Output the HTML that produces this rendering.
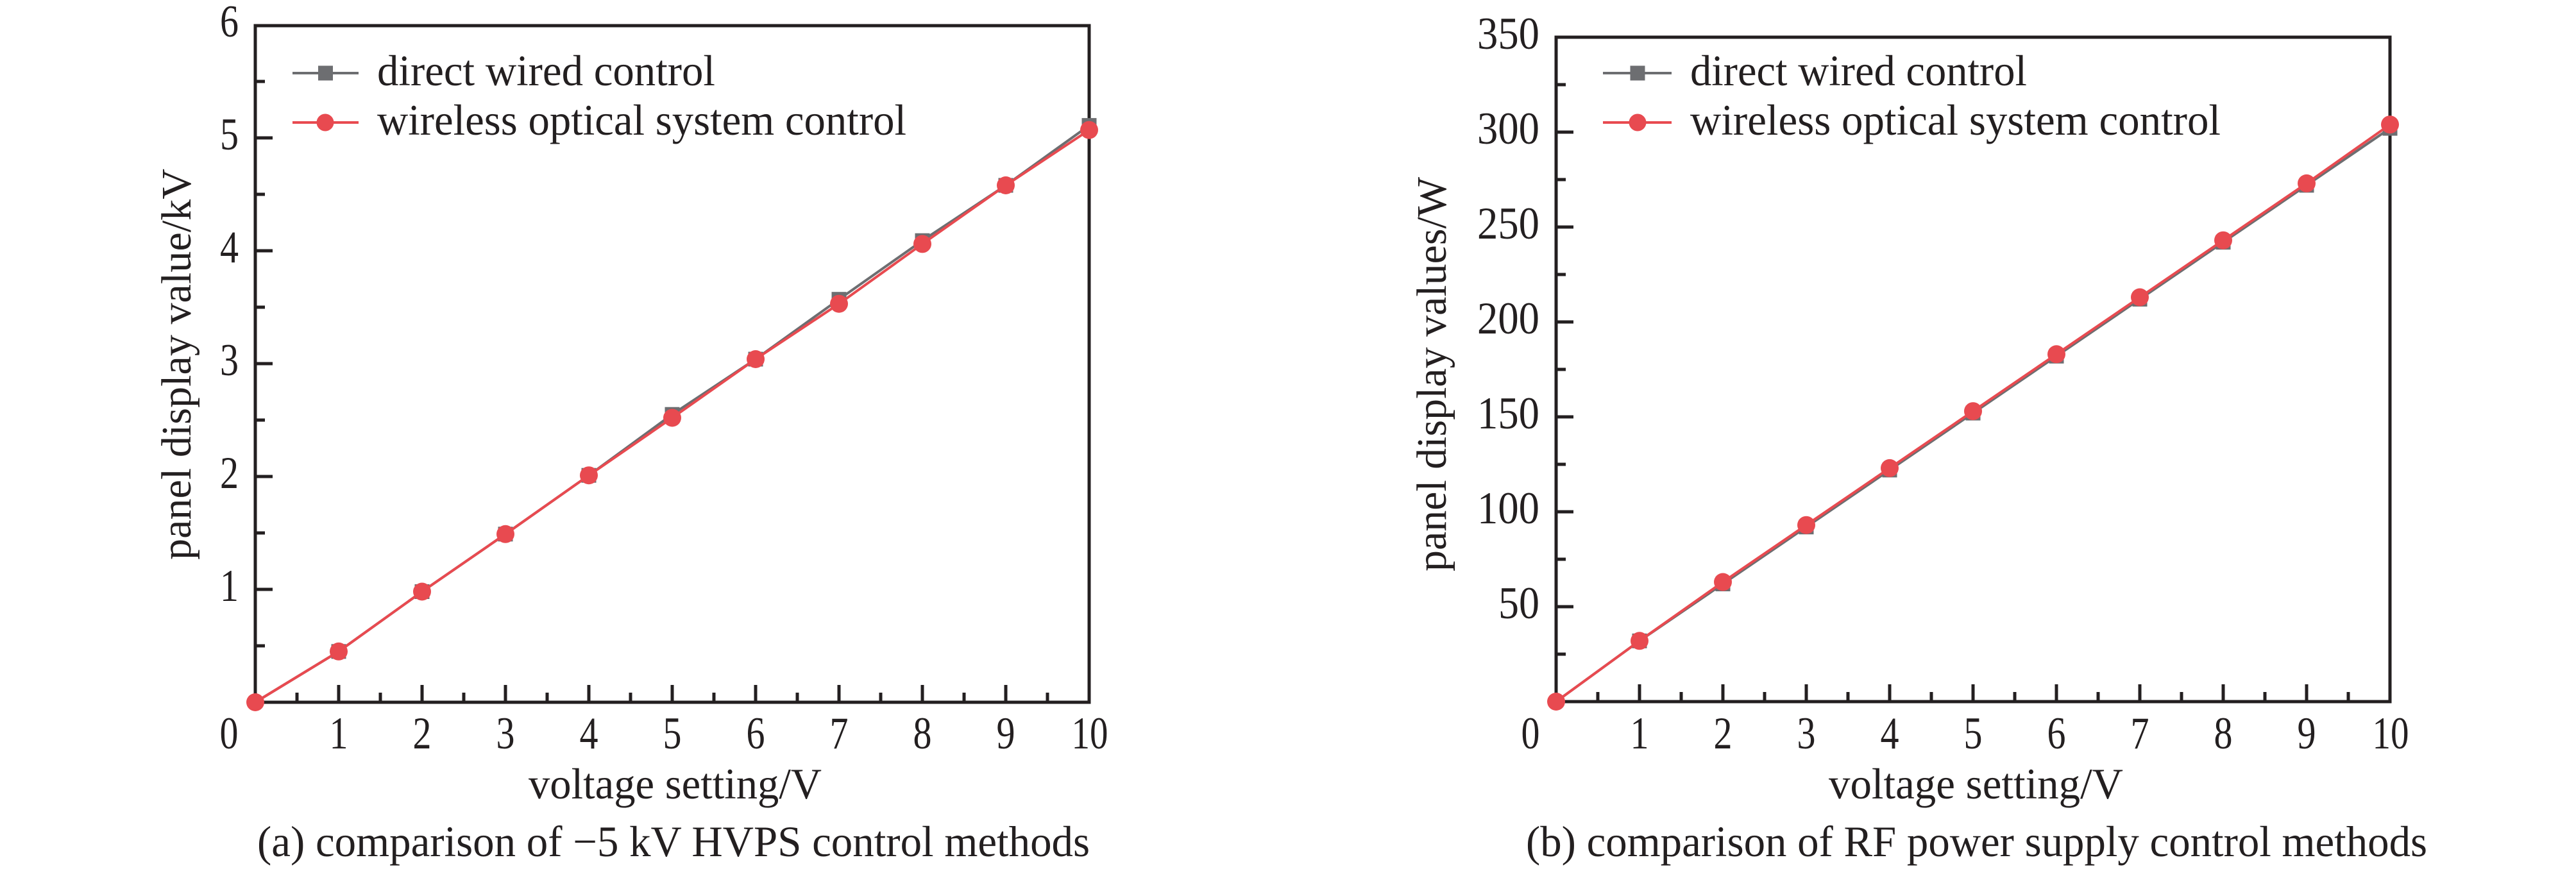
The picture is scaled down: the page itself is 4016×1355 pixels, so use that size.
<!DOCTYPE html>
<html><head><meta charset="utf-8"><style>html,body{margin:0;padding:0;background:#fff}svg{display:block}</style></head>
<body>
<svg xmlns="http://www.w3.org/2000/svg" width="4016" height="1355" viewBox="0 0 4016 1355" font-family="Liberation Serif, serif" fill="#231f20">
<rect width="4016" height="1355" fill="#fff"/>
<!-- ===== Plot (a) ===== -->
<g stroke="#231f20" stroke-width="5" fill="none">
<rect x="398" y="40" width="1300" height="1055"/>
<path d="M398 919h27M398 743h27M398 567h27M398 391h27M398 215h27M398 1007h15M398 831h15M398 655h15M398 479h15M398 303h15M398 127h15"/>
<path d="M528 1095v-27M658 1095v-27M788 1095v-27M918 1095v-27M1048 1095v-27M1178 1095v-27M1308 1095v-27M1438 1095v-27M1568 1095v-27M463 1095v-15M593 1095v-15M723 1095v-15M853 1095v-15M983 1095v-15M1113 1095v-15M1243 1095v-15M1373 1095v-15M1503 1095v-15M1633 1095v-15"/>
</g>
<g font-size="71" text-anchor="end" lengthAdjust="spacingAndGlyphs">
<text x="372" y="937" textLength="29" lengthAdjust="spacingAndGlyphs">1</text><text x="372" y="761" textLength="29" lengthAdjust="spacingAndGlyphs">2</text><text x="372" y="585" textLength="29" lengthAdjust="spacingAndGlyphs">3</text><text x="372" y="409" textLength="29" lengthAdjust="spacingAndGlyphs">4</text><text x="372" y="233" textLength="29" lengthAdjust="spacingAndGlyphs">5</text><text x="372" y="57" textLength="29" lengthAdjust="spacingAndGlyphs">6</text>
</g>
<g font-size="71" text-anchor="middle">
<text x="357" y="1167" textLength="29" lengthAdjust="spacingAndGlyphs">0</text><text x="528" y="1167" textLength="29" lengthAdjust="spacingAndGlyphs">1</text><text x="658" y="1167" textLength="29" lengthAdjust="spacingAndGlyphs">2</text><text x="788" y="1167" textLength="29" lengthAdjust="spacingAndGlyphs">3</text><text x="918" y="1167" textLength="29" lengthAdjust="spacingAndGlyphs">4</text><text x="1048" y="1167" textLength="29" lengthAdjust="spacingAndGlyphs">5</text><text x="1178" y="1167" textLength="29" lengthAdjust="spacingAndGlyphs">6</text><text x="1308" y="1167" textLength="29" lengthAdjust="spacingAndGlyphs">7</text><text x="1438" y="1167" textLength="29" lengthAdjust="spacingAndGlyphs">8</text><text x="1568" y="1167" textLength="29" lengthAdjust="spacingAndGlyphs">9</text><text x="1699" y="1167" textLength="57" lengthAdjust="spacingAndGlyphs">10</text>
</g>
<text x="824" y="1245" font-size="68" textLength="457" lengthAdjust="spacingAndGlyphs">voltage setting/V</text>
<text x="401" y="1335" font-size="68" textLength="1298" lengthAdjust="spacingAndGlyphs">(a) comparison of −5 kV HVPS control methods</text>
<text transform="translate(297,873) rotate(-90)" font-size="66" textLength="610" lengthAdjust="spacingAndGlyphs">panel display value/kV</text>
<polyline fill="none" stroke="#6d6e71" stroke-width="4" points="398,1095 528,1015.8 658,922.5 788,832.8 918,741.2 1048,646.2 1178,560 1308,466.7 1438,375.2 1568,289 1698,195.6"/>
<g fill="#6d6e71">
<rect x="516.5" y="1004.3" width="23" height="23"/><rect x="646.5" y="911" width="23" height="23"/><rect x="776.5" y="821.3" width="23" height="23"/><rect x="906.5" y="729.7" width="23" height="23"/><rect x="1036.5" y="634.7" width="23" height="23"/><rect x="1166.5" y="548.5" width="23" height="23"/><rect x="1296.5" y="455.2" width="23" height="23"/><rect x="1426.5" y="363.7" width="23" height="23"/><rect x="1556.5" y="277.5" width="23" height="23"/><rect x="1686.5" y="184.1" width="23" height="23"/>
</g>
<polyline fill="none" stroke="#e84a50" stroke-width="4" points="398,1095 528,1015.8 658,922.5 788,832.8 918,741.2 1048,651.5 1178,560 1308,473.7 1438,380.4 1568,289 1698,202.7"/>
<g fill="#e84a50">
<circle cx="398" cy="1095" r="14"/><circle cx="528" cy="1015.8" r="14"/><circle cx="658" cy="922.5" r="14"/><circle cx="788" cy="832.8" r="14"/><circle cx="918" cy="741.2" r="14"/><circle cx="1048" cy="651.5" r="14"/><circle cx="1178" cy="560" r="14"/><circle cx="1308" cy="473.7" r="14"/><circle cx="1438" cy="380.4" r="14"/><circle cx="1568" cy="289" r="14"/><circle cx="1698" cy="202.7" r="14"/>
</g>
<line x1="456" y1="114" x2="559" y2="114" stroke="#6d6e71" stroke-width="4"/><rect x="496" y="102.5" width="23" height="23" fill="#6d6e71"/>
<line x1="456" y1="191" x2="559" y2="191" stroke="#e84a50" stroke-width="4"/><circle cx="507" cy="191" r="13.5" fill="#e84a50"/>
<text x="588" y="133" font-size="68" textLength="527" lengthAdjust="spacingAndGlyphs">direct wired control</text>
<text x="588" y="210" font-size="68" textLength="825" lengthAdjust="spacingAndGlyphs">wireless optical system control</text>

<!-- ===== Plot (b) ===== -->
<g stroke="#231f20" stroke-width="5" fill="none">
<rect x="2426" y="58" width="1300" height="1036"/>
<path d="M2426 946h27M2426 798h27M2426 650h27M2426 502h27M2426 354h27M2426 206h27M2426 1020h15M2426 872h15M2426 724h15M2426 576h15M2426 428h15M2426 280h15M2426 132h15"/>
<path d="M2556 1094v-27M2686 1094v-27M2816 1094v-27M2946 1094v-27M3076 1094v-27M3206 1094v-27M3336 1094v-27M3466 1094v-27M3596 1094v-27M2491 1094v-15M2621 1094v-15M2751 1094v-15M2881 1094v-15M3011 1094v-15M3141 1094v-15M3271 1094v-15M3401 1094v-15M3531 1094v-15M3661 1094v-15"/>
</g>
<g font-size="71" text-anchor="end">
<text x="2400" y="964" textLength="64" lengthAdjust="spacingAndGlyphs">50</text><text x="2400" y="816" textLength="97" lengthAdjust="spacingAndGlyphs">100</text><text x="2400" y="668" textLength="97" lengthAdjust="spacingAndGlyphs">150</text><text x="2400" y="520" textLength="97" lengthAdjust="spacingAndGlyphs">200</text><text x="2400" y="372" textLength="97" lengthAdjust="spacingAndGlyphs">250</text><text x="2400" y="224" textLength="97" lengthAdjust="spacingAndGlyphs">300</text><text x="2400" y="76" textLength="97" lengthAdjust="spacingAndGlyphs">350</text>
</g>
<g font-size="71" text-anchor="middle">
<text x="2386" y="1167" textLength="29" lengthAdjust="spacingAndGlyphs">0</text><text x="2556" y="1167" textLength="29" lengthAdjust="spacingAndGlyphs">1</text><text x="2686" y="1167" textLength="29" lengthAdjust="spacingAndGlyphs">2</text><text x="2816" y="1167" textLength="29" lengthAdjust="spacingAndGlyphs">3</text><text x="2946" y="1167" textLength="29" lengthAdjust="spacingAndGlyphs">4</text><text x="3076" y="1167" textLength="29" lengthAdjust="spacingAndGlyphs">5</text><text x="3206" y="1167" textLength="29" lengthAdjust="spacingAndGlyphs">6</text><text x="3336" y="1167" textLength="29" lengthAdjust="spacingAndGlyphs">7</text><text x="3466" y="1167" textLength="29" lengthAdjust="spacingAndGlyphs">8</text><text x="3596" y="1167" textLength="29" lengthAdjust="spacingAndGlyphs">9</text><text x="3727" y="1167" textLength="57" lengthAdjust="spacingAndGlyphs">10</text>
</g>
<text x="2851" y="1245" font-size="68" textLength="459" lengthAdjust="spacingAndGlyphs">voltage setting/V</text>
<text x="2379" y="1335" font-size="68" textLength="1405" lengthAdjust="spacingAndGlyphs">(b) comparison of RF power supply control methods</text>
<text transform="translate(2254,891) rotate(-90)" font-size="66" textLength="615" lengthAdjust="spacingAndGlyphs">panel display values/W</text>
<polyline fill="none" stroke="#6d6e71" stroke-width="4" points="2426,1094 2556,999.3 2686,910.5 2816,821.7 2946,732.9 3076,644.1 3206,555.3 3336,466.5 3466,377.7 3596,288.9 3726,200.1"/>
<g fill="#6d6e71">
<rect x="2544.5" y="987.8" width="23" height="23"/><rect x="2674.5" y="899" width="23" height="23"/><rect x="2804.5" y="810.2" width="23" height="23"/><rect x="2934.5" y="721.4" width="23" height="23"/><rect x="3064.5" y="632.6" width="23" height="23"/><rect x="3194.5" y="543.8" width="23" height="23"/><rect x="3324.5" y="455" width="23" height="23"/><rect x="3454.5" y="366.2" width="23" height="23"/><rect x="3584.5" y="277.4" width="23" height="23"/><rect x="3714.5" y="188.6" width="23" height="23"/>
</g>
<polyline fill="none" stroke="#e84a50" stroke-width="4" points="2426,1094 2556,999.3 2686,907.5 2816,818.7 2946,729.9 3076,641.1 3206,552.3 3336,463.5 3466,374.7 3596,285.9 3726,194.2"/>
<g fill="#e84a50">
<circle cx="2426" cy="1094" r="14"/><circle cx="2556" cy="999.3" r="14"/><circle cx="2686" cy="907.5" r="14"/><circle cx="2816" cy="818.7" r="14"/><circle cx="2946" cy="729.9" r="14"/><circle cx="3076" cy="641.1" r="14"/><circle cx="3206" cy="552.3" r="14"/><circle cx="3336" cy="463.5" r="14"/><circle cx="3466" cy="374.7" r="14"/><circle cx="3596" cy="285.9" r="14"/><circle cx="3726" cy="194.2" r="14"/>
</g>
<line x1="2499" y1="114" x2="2606" y2="114" stroke="#6d6e71" stroke-width="4"/><rect x="2541.5" y="102.5" width="23" height="23" fill="#6d6e71"/>
<line x1="2499" y1="191" x2="2606" y2="191" stroke="#e84a50" stroke-width="4"/><circle cx="2553" cy="191" r="13.5" fill="#e84a50"/>
<text x="2635" y="133" font-size="68" textLength="525" lengthAdjust="spacingAndGlyphs">direct wired control</text>
<text x="2635" y="210" font-size="68" textLength="827" lengthAdjust="spacingAndGlyphs">wireless optical system control</text>
</svg>
</body></html>
